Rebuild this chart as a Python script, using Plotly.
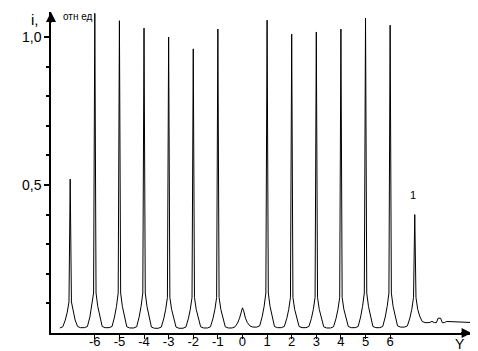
import plotly.graph_objects as go

# ---- data ----
orders = [-7, -6, -5, -4, -3, -2, -1, 0, 1, 2, 3, 4, 5, 6, 7, 8]
peak_heights = [0.52, 1.08, 1.055, 1.03, 1.00, 0.96, 1.027, 0.085, 1.057, 1.01,
                1.017, 1.027, 1.064, 1.04, 0.40, 0.05]
foot_heights = [0.07, 0.09, 0.09, 0.09, 0.08, 0.08, 0.08, 0.05, 0.09, 0.08,
                0.08, 0.08, 0.09, 0.09, 0.08, 0.035]
# floor level: left start, 15 valleys between neighbouring peaks, right tail
floor_levels = [0.017, 0.018, 0.018, 0.017, 0.016, 0.016, 0.017, 0.017, 0.02,
                0.018, 0.018, 0.017, 0.018, 0.018, 0.02, 0.035, 0.035]
x_start, x_end = -7.42, 9.45

tick_vals = [-6, -5, -4, -3, -2, -1, 0, 1, 2, 3, 4, 5, 6]
tick_text = ["-6", "-5", "-4", "-3", "-2", "-1", "0", "1", "2", "3", "4", "5", "6"]
y_tick_vals = [0.5, 1.0]
y_tick_text = ["0,5", "1,0"]

# ---- build the trace from the read values ----
xs, ys = [x_start], [floor_levels[0]]
for i, (k, h, f) in enumerate(zip(orders, peak_heights, foot_heights)):
    fl_left = floor_levels[i]
    fl_right = floor_levels[i + 1]
    xs += [k - 0.3, k - 0.2, k - 0.12, k - 0.05, k, k + 0.05, k + 0.12, k + 0.2, k + 0.3]
    ys += [fl_left + 0.004, (fl_left + f) / 2, f, min(1.5 * f, h), h,
           min(1.5 * f, h), f, (fl_right + f) / 2, fl_right + 0.004]
    if i < len(orders) - 1:
        xs += [k + 0.42, k + 0.58]
        ys += [fl_right, fl_right]
xs.append(x_end)
ys.append(floor_levels[-1])

fig = go.Figure()
fig.add_trace(go.Scatter(x=xs, y=ys, mode="lines",
                         line=dict(color="black", width=1), hoverinfo="skip"))

fig.update_layout(
    width=478, height=351,
    margin=dict(l=43, r=8, t=4, b=26, autoexpand=False),
    paper_bgcolor="white", plot_bgcolor="white",
    showlegend=False,
    font=dict(family="Liberation Sans, Arial, sans-serif", color="black"),
    xaxis=dict(range=[-7.78, 9.57], showgrid=False, zeroline=False,
               automargin=False,
               showline=True, linecolor="black", linewidth=2,
               tickmode="array", tickvals=tick_vals, ticktext=tick_text,
               ticks="outside", ticklen=4, tickcolor="black", tickwidth=1,
               ticklabelstandoff=-9,
               tickfont=dict(size=13)),
    yaxis=dict(range=[0, 1.0845], showgrid=False, zeroline=False,
               automargin=False,
               showline=True, linecolor="black", linewidth=1.5,
               tickmode="array", tickvals=y_tick_vals, ticktext=y_tick_text,
               ticks="outside", ticklen=5, tickcolor="black", tickwidth=2,
               tickfont=dict(size=14),
               minor=dict(tickmode="array",
                          tickvals=[0.1, 0.2, 0.3, 0.4, 0.6, 0.7, 0.8, 0.9],
                          ticks="outside", ticklen=3, tickcolor="black", tickwidth=1.5)),
)

# axis arrows
fig.add_annotation(xref="paper", yref="paper", x=0, y=1.0, ax=0, ay=12,
                   showarrow=True, arrowhead=2, arrowsize=1, arrowwidth=2,
                   arrowcolor="black", text="")
fig.add_annotation(xref="paper", yref="paper", x=0.985, y=0, ax=-12, ay=0,
                   showarrow=True, arrowhead=2, arrowsize=1, arrowwidth=2,
                   arrowcolor="black", text="")

# labels
fig.add_annotation(xref="paper", yref="paper", x=-0.037, y=0.978, text="i,",
                   showarrow=False, font=dict(size=15), xanchor="center", yanchor="middle")
fig.add_annotation(xref="paper", yref="paper", x=0.024, y=0.985, text="отн ед",
                   showarrow=False, font=dict(size=10), xanchor="left", yanchor="middle")
fig.add_annotation(xref="x", yref="paper", x=8.85, y=0, yshift=-1, text="Y",
                   showarrow=False, font=dict(size=14), xanchor="center", yanchor="top")
fig.add_annotation(xref="x", yref="y", x=6.93, y=0.466, text="1",
                   showarrow=False, font=dict(size=11), xanchor="center", yanchor="middle")

fig.write_html("out.html")
